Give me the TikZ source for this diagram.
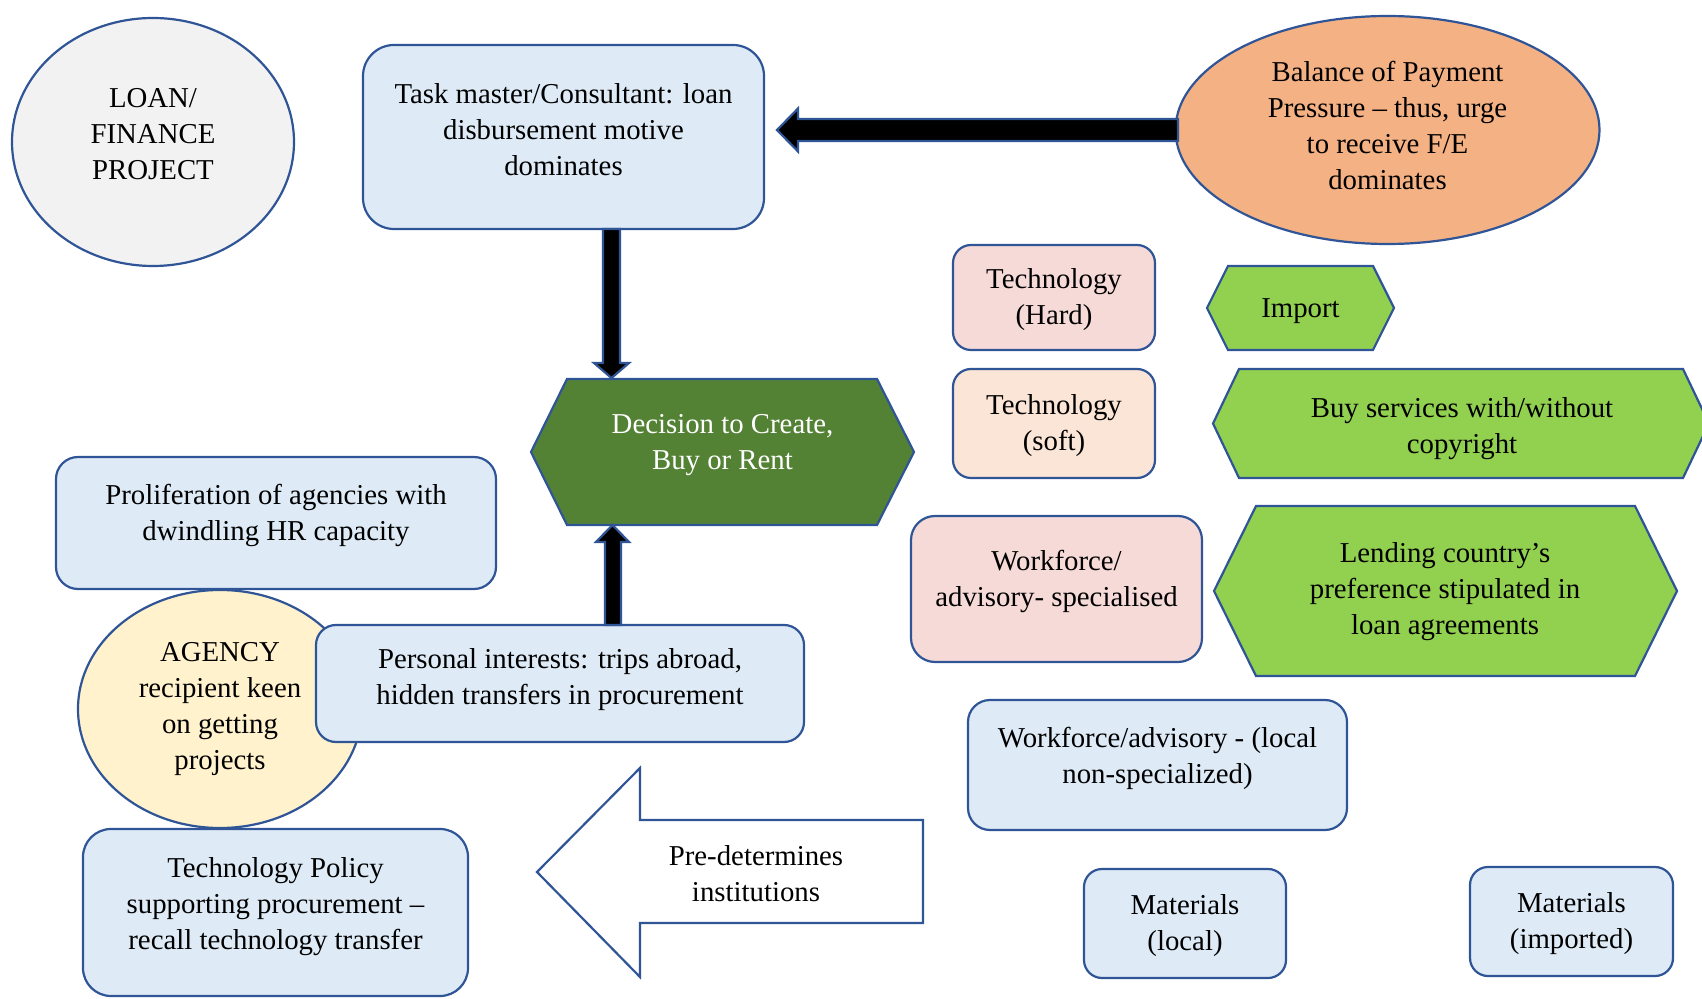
\documentclass[tikz,border=0pt]{standalone}
\usepackage{fontspec}
\setmainfont{Liberation Serif}
\usetikzlibrary{shapes.geometric}
\newdimen\px \px=0.5pt
\definecolor{rim}{HTML}{2F5597}
\definecolor{paleblue}{HTML}{DEEBF7}
\definecolor{palegray}{HTML}{F2F2F2}
\definecolor{peach}{HTML}{F4B183}
\definecolor{cream}{HTML}{FFF2CC}
\definecolor{rose}{HTML}{F6DAD7}
\definecolor{blush}{HTML}{FBE5D6}
\definecolor{leaf}{HTML}{92D050}
\definecolor{forest}{HTML}{548235}
\begin{document}
\begin{tikzpicture}[x=0.5pt, y=-0.5pt,
  rimline/.style={draw=rim, line width=1.1pt},
  panel/.style={rimline, rectangle, fill=paleblue, inner sep=0pt},
  oval/.style={rimline, ellipse, inner sep=0pt},
  txt/.style={align=center, inner sep=0pt, yshift=-1.5pt, font=\fontsize{14.4}{18}\selectfont},
  hexa/.style={rimline, line join=miter, fill=leaf},
  block/.style={rimline, line join=miter, fill=black},
]
\useasboundingbox (0,0) rectangle (1702,999);

% --- top row -------------------------------------------------------------
\node[oval, fill=palegray, minimum width=282\px, minimum height=248\px] (loan) at (153,142) {};
\node[txt] (loan-t) at (153,131) {LOAN/\\FINANCE\\PROJECT};

\node[panel, rounded corners=31\px, minimum width=401\px, minimum height=184\px] (task) at (563.5,137) {};
\node[txt] (task-t) at (563.5,127) {Task master/Consultant: loan\\disbursement motive\\dominates};

\node[oval, fill=peach, minimum width=424\px, minimum height=228\px] (bop) at (1387.5,130) {};
\node[txt] (bop-t) at (1387.5,123) {Balance of Payment\\Pressure – thus, urge\\to receive F/E\\dominates};

% thick arrow: payment pressure -> consultant
\draw[block] (1178,119) -- (798,119) -- (798,108.5) -- (777,130) -- (798,151.5)
  -- (798,141) -- (1178,141) -- cycle;

% --- decision hexagon ------------------------------------------------------
\draw[rimline, line join=miter, fill=forest] (531,452) -- (567,379) -- (877,379)
  -- (914,452) -- (877,525) -- (567,525) -- cycle;
\node[txt, text=white] (decide) at (722.5,442) {Decision to Create,\\Buy or Rent};

% consultant -> decision
\draw[block] (603,229) -- (603,363) -- (594,363) -- (611.5,378) -- (629,363)
  -- (620,363) -- (620,229) -- cycle;

% --- left column ---------------------------------------------------------
\node[panel, rounded corners=22\px, minimum width=440\px, minimum height=132\px] (prolif) at (276,523) {};
\node[txt] (prolif-t) at (276,512) {Proliferation of agencies with\\dwindling HR capacity};

\node[oval, fill=cream, minimum width=284\px, minimum height=238\px] (agency) at (220,709) {};
\node[txt] (agency-t) at (220,706) {AGENCY\\recipient keen\\on getting\\projects};

\node[panel, rounded corners=20\px, minimum width=488\px, minimum height=117\px] (personal) at (560,683.5) {};
\node[txt] (personal-t) at (560,677) {Personal interests: trips abroad,\\hidden transfers in procurement};

% personal interests -> decision
\draw[block] (605,625) -- (605,542) -- (596,542) -- (612.5,525) -- (629,542)
  -- (621,542) -- (621,625) -- cycle;

\node[panel, rounded corners=28\px, minimum width=385\px, minimum height=167\px] (policy) at (275.5,912.5) {};
\node[txt] (policy-t) at (275.5,904) {Technology Policy\\supporting procurement –\\recall technology transfer};

% open block arrow pointing back to the policy box
\draw[rimline, line join=miter, fill=white] (923,820) -- (640,820) -- (640,768) -- (537,872)
  -- (640,977) -- (640,923) -- (923,923) -- cycle;
\node[txt] (predet) at (756,871) {Pre-determines\\institutions};

% --- options on the right ------------------------------------------------
\node[panel, fill=rose, rounded corners=18\px, minimum width=202\px, minimum height=105\px] (hard) at (1054,297.5) {};
\node[txt] (hard-t) at (1054,297) {Technology\\(Hard)};

\node[panel, fill=blush, rounded corners=18\px, minimum width=202\px, minimum height=109\px] (soft) at (1054,423.5) {};
\node[txt] (soft-t) at (1054,423) {Technology\\(soft)};

\node[panel, fill=rose, rounded corners=24\px, minimum width=291\px, minimum height=146\px] (special) at (1056.5,589) {};
\node[txt] (special-t) at (1056.5,578) {Workforce/\\advisory- specialised};

\node[panel, rounded corners=22\px, minimum width=379\px, minimum height=130\px] (localwf) at (1157.5,765) {};
\node[txt] (localwf-t) at (1157.5,755) {Workforce/advisory - (local\\non-specialized)};

\node[panel, rounded corners=18\px, minimum width=202\px, minimum height=109\px] (matloc) at (1185,923.5) {};
\node[txt] (matloc-t) at (1185,923) {Materials\\(local)};

\node[panel, rounded corners=18\px, minimum width=203\px, minimum height=109\px] (matimp) at (1571.5,921.5) {};
\node[txt] (matimp-t) at (1571.5,921) {Materials\\(imported)};

% green hexagons
\draw[hexa] (1207,308) -- (1228,266) -- (1373,266) -- (1394,308) -- (1373,350) -- (1228,350) -- cycle;
\node[txt] (import) at (1300.5,308) {Import};

\draw[hexa] (1213,423.5) -- (1239,369) -- (1683,369) -- (1709,423.5) -- (1683,478) -- (1239,478) -- cycle;
\node[txt] (buy) at (1462,426) {Buy services with/without\\copyright};

\draw[hexa] (1214,591) -- (1256,506) -- (1635,506) -- (1677,591) -- (1635,676) -- (1256,676) -- cycle;
\node[txt] (lend) at (1445,589) {Lending country’s\\preference stipulated in\\loan agreements};
\end{tikzpicture}
\end{document}
